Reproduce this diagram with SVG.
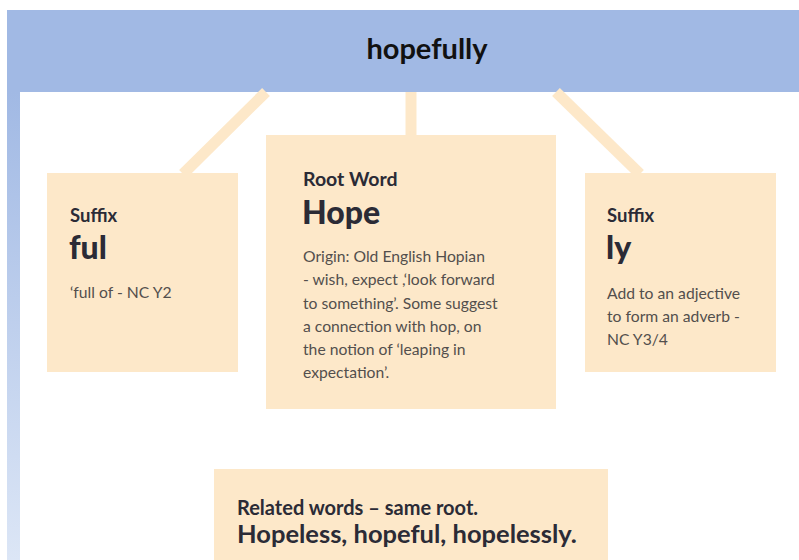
<svg xmlns="http://www.w3.org/2000/svg" width="799" height="560" viewBox="0 0 799 560">
<defs>
<linearGradient id="strip" x1="0" y1="0" x2="0" y2="1">
<stop offset="0" stop-color="#A1B9E4"/>
<stop offset="1" stop-color="#DCE6F6"/>
</linearGradient>
</defs>
<style>
.box{fill:#FDE8C9}
.conn{stroke:#FDE8C9;stroke-width:11;fill:none}
.lbl{font-family:Lato,"Liberation Sans",sans-serif;font-weight:bold;fill:#2B2B36}
.heavy{font-family:Lato,"Liberation Sans",sans-serif;font-weight:900;fill:#2B2B36}
.body{font-family:Lato,"Liberation Sans",sans-serif;fill:#534F4D;font-size:15.7px}
</style>
<rect x="0" y="0" width="799" height="560" fill="#FFFFFF"/>
<rect x="7" y="10" width="792" height="82" fill="#A1B9E4"/>
<rect x="7" y="92" width="13" height="468" fill="url(#strip)"/>
<text x="427" y="59" text-anchor="middle" font-family="Lato,'Liberation Sans',sans-serif" font-weight="bold" font-size="29" fill="#111111">hopefully</text>
<g id="connectors">
<line class="conn" x1="266" y1="92" x2="183" y2="174"/>
<line class="conn" x1="411" y1="92" x2="411" y2="136"/>
<line class="conn" x1="556" y1="92" x2="640" y2="174"/>
</g>
<g id="suffix-ful">
<rect class="box" x="47" y="173" width="191" height="199"/>
<text class="lbl" x="70" y="222" font-size="18.5">Suffix</text>
<text class="heavy" x="69" y="259" font-size="32">ful</text>
<text class="body" x="70" y="298">‘full of - NC Y2</text>
</g>
<g id="root-word">
<rect class="box" x="266" y="135" width="290" height="274"/>
<text class="lbl" x="303" y="186" font-size="19.5">Root Word</text>
<text class="heavy" x="302" y="224" font-size="32">Hope</text>
<text class="body" x="303" y="262">Origin: Old English Hopian</text>
<text class="body" x="303" y="285">- wish, expect ,‘look forward</text>
<text class="body" x="303" y="309">to something’. Some suggest</text>
<text class="body" x="303" y="332">a connection with hop, on</text>
<text class="body" x="303" y="355">the notion of ‘leaping in</text>
<text class="body" x="303" y="378">expectation’.</text>
</g>
<g id="suffix-ly">
<rect class="box" x="585" y="173" width="191" height="199"/>
<text class="lbl" x="607" y="222" font-size="18.5">Suffix</text>
<text class="heavy" x="606" y="259" font-size="32">ly</text>
<text class="body" x="607" y="299">Add to an adjective</text>
<text class="body" x="607" y="322">to form an adverb -</text>
<text class="body" x="607" y="345">NC Y3/4</text>
</g>
<g id="related">
<rect class="box" x="214" y="469" width="394" height="91"/>
<text class="lbl" x="237" y="515" font-size="20">Related words – same root.</text>
<text class="lbl" x="237" y="543" font-size="25.5">Hopeless, hopeful, hopelessly.</text>
</g>
</svg>
